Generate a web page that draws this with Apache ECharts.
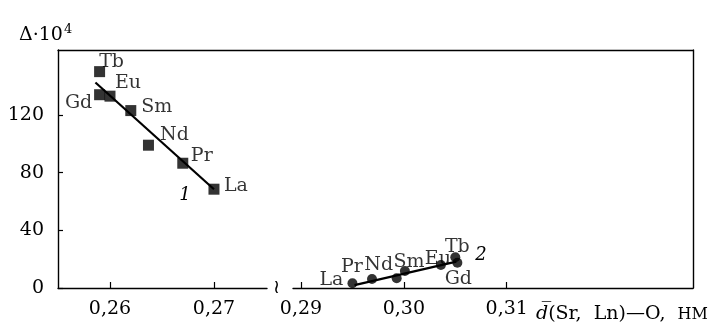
<!DOCTYPE html>
<html>
<head>
<meta charset="utf-8">
<script src="https://cdn.jsdelivr.net/npm/echarts@6/dist/echarts.min.js"></script>
<style>html,body{margin:0;padding:0;background:#fff}#c{width:716px;height:326px}</style>
</head>
<body>
<div id="c"></div>
<script>
// ---- data ----
const names = ['La', 'Pr', 'Nd', 'Sm', 'Eu', 'Gd', 'Tb'];
const d1 = [0.2700, 0.2670, 0.2637, 0.2620, 0.2600, 0.2590, 0.2590];
const delta1 = [68.5, 86.5, 99, 123, 133, 134, 150];
const d2 = [0.2950, 0.2969, 0.2993, 0.3001, 0.3036, 0.3052, 0.3050];
const delta2 = [3.3, 6.2, 6.7, 11.8, 16, 17.5, 21.3];
const fit1X = [0.2586, 0.2700];
const fit1Y = [142.5, 68.5];
const fit2X = [0.2952, 0.3051];
const fit2Y = [2, 18.3];
const xTicks1 = [0.26, 0.27];
const xTicks2 = [0.29, 0.30, 0.31];
const yTicks = [0, 40, 80, 120];
const curveNames = ['1', '2'];
const curveLabelPos = [[0.2672, 64], [0.3075, 22.5]];

// ---- styles (label offsets) ----
const off1 = [[22, -3], [19, -7], [26, -10], [26, -4], [18, -13], [-21, 8], [12, -10]];
const off2 = [[-21, -3], [-20, -12], [-18, -13], [4, -9], [-3, -6], [1, 16], [2, -10]];

const FONT = 'DejaVu Serif';
const INK = '#000';
const fmt = v => Number(v).toFixed(2).replace('.', ',');

function pts(xs, ys, offs) {
  return xs.map((x, i) => ({
    name: names[i],
    value: [x, ys[i]],
    label: { offset: offs[i] }
  }));
}
function line(xs, ys) { return xs.map((x, i) => [x, ys[i]]); }

const chart = echarts.init(document.getElementById('c'), null, { renderer: 'canvas' });
const baseLabel = { show: true, position: 'inside', formatter: p => p.name, color: INK, fontFamily: FONT, fontSize: 19 };
const axisLn = { color: INK, width: 1.4 };

chart.setOption({
  animation: false,
  backgroundColor: '#fff',
  textStyle: { fontFamily: FONT, color: INK },
  title: [
    {
      text: 'Δ·10{s|4}', left: 14, top: 18,
      textStyle: { fontFamily: FONT, fontSize: 19, fontWeight: 'normal', color: INK,
        rich: { s: { fontFamily: FONT, fontSize: 13, verticalAlign: 'top', padding: [0, 0, 12, 1], color: INK } } }
    },
    {
      text: '{i|d\u0305}(Sr,  Ln)—O,  {u|НМ}', left: 531, top: 300,
      textStyle: { fontFamily: FONT, fontSize: 19, fontWeight: 'normal', color: INK,
        rich: { i: { fontFamily: FONT, fontStyle: 'italic', fontSize: 19, color: INK },
                u: { fontFamily: FONT, fontSize: 16, color: INK } } }
    }
  ],
  grid: [
    { left: 58, right: 449, top: 50, bottom: 38 },
    { left: 293, right: 23, top: 50, bottom: 38 },
    { left: 58, right: 23, top: 50, bottom: 38 }
  ],
  xAxis: [
    {
      type: 'value', gridIndex: 0, min: 0.255, max: 0.2751,
      name: '≀', nameLocation: 'end', nameGap: 6,
      nameTextStyle: { fontFamily: FONT, fontSize: 19, color: INK, verticalAlign: 'middle', padding: [5, 0, 0, 0] },
      axisLine: { show: true, onZero: false, lineStyle: axisLn },
      axisTick: { show: true, inside: true, length: 6, customValues: xTicks1, lineStyle: { color: INK, width: 1.2 } },
      axisLabel: { customValues: xTicks1, formatter: fmt, margin: 12, fontFamily: FONT, fontSize: 19, color: INK },
      splitLine: { show: false }
    },
    {
      type: 'value', gridIndex: 1, min: 0.28922, max: 0.32811,
      axisLine: { show: true, onZero: false, lineStyle: axisLn },
      axisTick: { show: true, inside: true, length: 6, customValues: xTicks2, lineStyle: { color: INK, width: 1.2 } },
      axisLabel: { customValues: xTicks2, formatter: fmt, margin: 12, fontFamily: FONT, fontSize: 19, color: INK },
      splitLine: { show: false }
    },
    {
      type: 'value', gridIndex: 2, position: 'top', min: 0, max: 1,
      axisLine: { show: true, onZero: false, lineStyle: axisLn },
      axisTick: { show: false }, axisLabel: { show: false }, splitLine: { show: false }
    }
  ],
  yAxis: [
    {
      type: 'value', gridIndex: 0, min: 0, max: 165,
      axisLine: { show: true, onZero: false, lineStyle: axisLn },
      axisTick: { show: true, inside: true, length: 5, customValues: yTicks, lineStyle: { color: INK, width: 1.2 } },
      axisLabel: { customValues: yTicks, margin: 14, fontFamily: FONT, fontSize: 19, color: INK },
      splitLine: { show: false }
    },
    {
      type: 'value', gridIndex: 1, min: 0, max: 165, show: false
    },
    {
      type: 'value', gridIndex: 2, position: 'right', min: 0, max: 1,
      axisLine: { show: true, onZero: false, lineStyle: axisLn },
      axisTick: { show: false }, axisLabel: { show: false }, splitLine: { show: false }
    }
  ],
  series: [
    {
      type: 'line', xAxisIndex: 0, yAxisIndex: 0, data: line(fit1X, fit1Y),
      showSymbol: false, lineStyle: { color: INK, width: 2.2 }, z: 2,
      markPoint: {
        symbol: 'circle', symbolSize: 0,
        label: { show: true, formatter: curveNames[0], fontFamily: FONT, fontStyle: 'italic', fontSize: 18, color: INK },
        data: [{ coord: curveLabelPos[0] }]
      }
    },
    {
      type: 'scatter', xAxisIndex: 0, yAxisIndex: 0, data: pts(d1, delta1, off1),
      symbol: 'rect', symbolSize: 11, itemStyle: { color: INK }, label: baseLabel, z: 3
    },
    {
      type: 'line', xAxisIndex: 1, yAxisIndex: 1, data: line(fit2X, fit2Y),
      showSymbol: false, lineStyle: { color: INK, width: 2.2 }, z: 2,
      markPoint: {
        symbol: 'circle', symbolSize: 0,
        label: { show: true, formatter: curveNames[1], fontFamily: FONT, fontStyle: 'italic', fontSize: 18, color: INK },
        data: [{ coord: curveLabelPos[1] }]
      }
    },
    {
      type: 'scatter', xAxisIndex: 1, yAxisIndex: 1, data: pts(d2, delta2, off2),
      symbol: 'circle', symbolSize: 10, itemStyle: { color: INK }, label: baseLabel, z: 3
    }
  ]
});
</script>
</body>
</html>
